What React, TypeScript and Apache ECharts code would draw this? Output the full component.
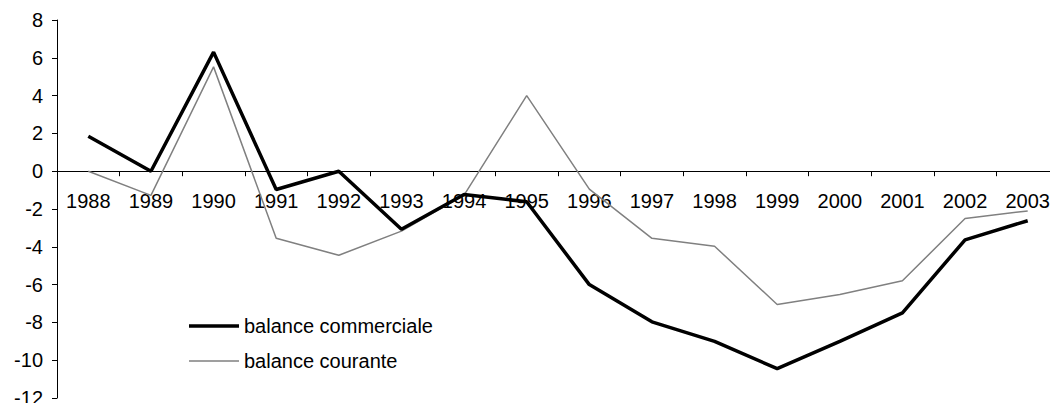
import React, { useEffect, useRef } from "react";
import * as echarts from "echarts";

const years = ["1988","1989","1990","1991","1992","1993","1994","1995","1996","1997","1998","1999","2000","2001","2002","2003"];
const balanceCommerciale = [1.85, 0, 6.3, -0.97, 0, -3.07, -1.23, -1.62, -6.0, -7.97, -9.0, -10.45, -9.0, -7.5, -3.63, -2.62];
const balanceCourante = [0, -1.28, 5.52, -3.55, -4.45, -3.17, -1.27, 4.0, -0.95, -3.55, -3.97, -7.05, -6.52, -5.8, -2.5, -2.1];
const yTicks = { min: -12, max: 8, interval: 2 };

const FONT = "'Liberation Sans', Arial, sans-serif";
// legend icons: a bar of the series' line thickness centred in a 50x14 box
const ICON_THICK = "path://M0,0h50v0.01h-50zM0,5.25h50v3.5h-50zM0,13.99h50v0.01h-50z";
const ICON_THIN = "path://M0,0h50v0.01h-50zM0,6.25h50v1.5h-50zM0,13.99h50v0.01h-50z";

export default function App() {
  const ref = useRef<HTMLDivElement>(null);
  useEffect(() => {
    document.body.style.margin = "0";
    const chart = echarts.init(ref.current!, null, { renderer: "svg" });
    const gridTop = 20;
    const gridBottomPx = 398;
    const zeroPx = gridTop + ((yTicks.max - 0) / (yTicks.max - yTicks.min)) * (gridBottomPx - gridTop);
    chart.setOption({
      animation: false,
      backgroundColor: "#ffffff",
      textStyle: { fontFamily: FONT },
      grid: { left: 57, right: -9, top: gridTop, bottom: 403 - gridBottomPx, containLabel: false, outerBoundsMode: "none" },
      legend: {
        orient: "vertical",
        left: 189,
        top: 316,
        padding: 0,
        itemWidth: 50,
        itemHeight: 14,
        itemGap: 15,
        itemStyle: { borderWidth: 0 },
        textStyle: { fontFamily: FONT, fontSize: 20, color: "#000" },
        data: [
          { name: "balance commerciale", icon: ICON_THICK },
          { name: "balance courante", icon: ICON_THIN },
        ],
      },
      xAxis: {
        type: "category",
        data: years,
        boundaryGap: true,
        position: "bottom",
        offset: -(gridBottomPx - zeroPx),
        axisLine: { onZero: false, lineStyle: { color: "#000", width: 1 } },
        axisTick: { show: true, alignWithLabel: false, length: 5, inside: false, lineStyle: { color: "#000" } },
        axisLabel: { fontFamily: FONT, fontSize: 20, color: "#000", margin: 20, interval: 0 },
        splitLine: { show: false },
      },
      yAxis: {
        type: "value",
        min: yTicks.min,
        max: yTicks.max,
        interval: yTicks.interval,
        axisLine: { show: true, lineStyle: { color: "#000", width: 1 } },
        axisTick: { show: true, length: 5, lineStyle: { color: "#000" } },
        axisLabel: { fontFamily: FONT, fontSize: 20, color: "#000", margin: 14 },
        splitLine: { show: false },
      },
      series: [
        {
          name: "balance commerciale",
          type: "line",
          data: balanceCommerciale,
          symbol: "none",
          lineStyle: { color: "#000000", width: 3.5 },
          itemStyle: { color: "#000000" },
          z: 3,
        },
        {
          name: "balance courante",
          type: "line",
          data: balanceCourante,
          symbol: "none",
          lineStyle: { color: "#808080", width: 1.5 },
          itemStyle: { color: "#808080" },
          z: 2,
        },
      ],
    });
    return () => chart.dispose();
  }, []);
  return <div ref={ref} style={{ width: 1050, height: 403 }} />;
}
